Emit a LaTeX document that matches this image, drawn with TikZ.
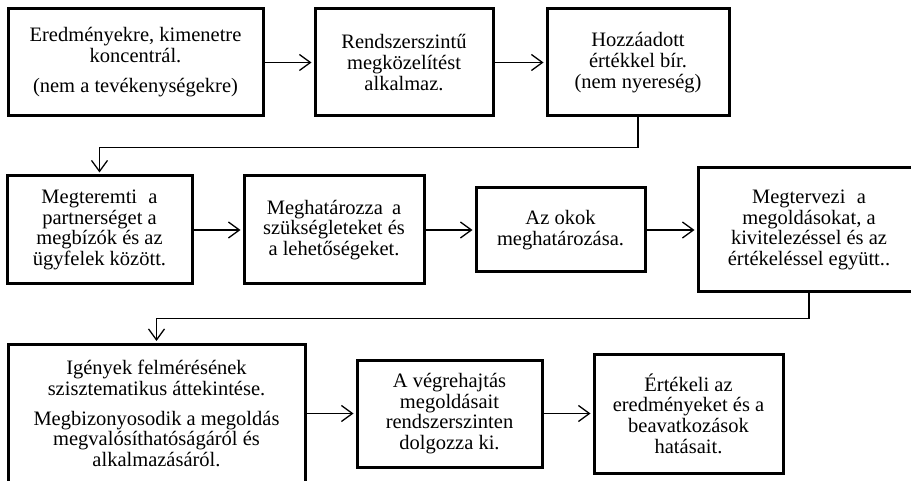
\documentclass[tikz,border=0pt]{standalone}
\usepackage{fontspec}
\setmainfont{Liberation Serif}
\usetikzlibrary{arrows.meta}
\begin{document}
\begin{tikzpicture}[x=1pt,y=-1pt,
  box/.style={draw, line width=3pt, rectangle, align=center, inner sep=0pt,
    font=\fontsize{20.5}{20.7}\selectfont},
  arr/.style={line width=1.2pt, -{Straight Barb[length=11pt,width=16pt,line width=1.3pt]}, shorten >=2pt}]
\useasboundingbox (0,0) rectangle (911,481);
\fill[white] (0,0) rectangle (911,481);
% row 1
\node[box, minimum width=255pt, minimum height=107pt] (b1) at (135.5,62.5)
  {Eredményekre, kimenetre\\ koncentrál.\\[9.5pt] (nem a tevékenységekre)};
\node[box, minimum width=178pt, minimum height=107pt] (b2) at (404,62.5)
  {Rendszerszintű\\ megközelítést\\ alkalmaz.};
\node[box, minimum width=182pt, minimum height=107pt] (b3) at (638,62.5)
  {Hozzáadott\\ értékkel bír.\\ (nem nyereség)};
% row 2
\node[box, minimum width=185pt, minimum height=108pt] (b4) at (99.5,230)
  {Megteremti\hspace{0.3em} a\\ partnerséget a\\ megbízók és az\\ ügyfelek között.};
\node[box, minimum width=180pt, minimum height=108pt] (b5) at (334,230)
  {Meghatározza\hspace{0.2em} a\\ szükségleteket és\\ a lehetőségeket.};
\node[box, minimum width=169pt, minimum height=84pt] (b6) at (560.5,230)
  {Az okok\\ meghatározása.};
\node[box, minimum width=222pt, minimum height=124pt] (b7) at (809,230)
  {Megtervezi\hspace{0.3em} a\\ megoldásokat, a\\ kivitelezéssel és az\\ értékeléssel együtt..};
% row 3
\node[box, minimum width=297pt, minimum height=138pt] (b8) at (156.5,413.5)
  {Igények felmérésének\\ szisztematikus áttekintése.\\[9pt] Megbizonyosodik a megoldás\\ megvalósíthatóságáról és\\ alkalmazásáról.};
\node[box, minimum width=185pt, minimum height=107pt] (b9) at (449.5,413.5)
  {A végrehajtás\\ megoldásait\\ rendszerszinten\\ dolgozza ki.};
\node[box, minimum width=189pt, minimum height=119pt] (b10) at (688.5,413.5)
  {Értékeli az\\ eredményeket és a\\ beavatkozások\\ hatásait.};
% connectors
\draw[arr] (b1.east) -- (b2.west);
\draw[arr] (b2.east) -- (b3.west);
\draw[arr] (b3.south) -- ++(0,30) -| (b4.north);
\draw[arr] (b4.east) -- (b5.west);
\draw[arr] (b5.east) -- (b6.west);
\draw[arr] (b6.east) -- (b7.west);
\draw[arr] (b7.south) -- ++(0,25) -| (b8.north);
\draw[arr] (b8.east |- b9.west) -- (b9.west);
\draw[arr] (b9.east) -- (b10.west);
\end{tikzpicture}
\end{document}
